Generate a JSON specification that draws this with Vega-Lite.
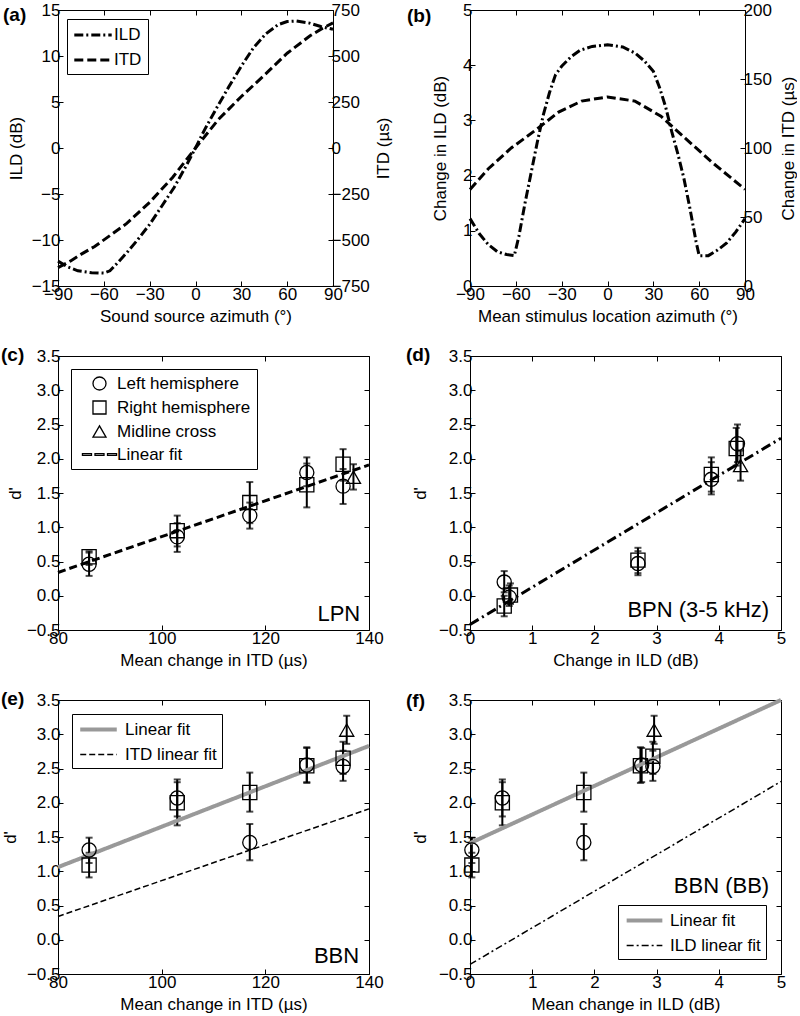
{
  "$schema": "https://vega.github.io/schema/vega-lite/v6.json",
  "background": "white",
  "padding": {"left": 0, "top": 0, "right": 0, "bottom": 0},
  "columns": 2,
  "spacing": {"row": 70, "column": 101},
  "bounds": "flush",
  "resolve": {
    "scale": {"color": "independent", "strokeDash": "independent", "shape": "independent", "strokeWidth": "independent"},
    "legend": {"color": "independent", "strokeDash": "independent", "shape": "independent", "strokeWidth": "independent"}
  },
  "config": {
    "font": "Liberation Sans",
    "view": {"stroke": "black", "strokeWidth": 1},
    "axis": {
      "grid": false,
      "domain": false,
      "tickColor": "black",
      "tickSize": -5,
      "tickWidth": 1,
      "labelColor": "black",
      "labelFont": "Liberation Sans",
      "labelFontSize": 17,
      "labelPadding": 3,
      "labelFlush": false,
      "labelOverlap": false,
      "titleColor": "black",
      "titleFont": "Liberation Sans",
      "titleFontSize": 17,
      "titleFontWeight": "normal"
    },
    "axisX": {"labelPadding": 5},
    "legend": {
      "labelFont": "Liberation Sans",
      "labelFontSize": 17,
      "labelColor": "black",
      "labelLimit": 300,
      "fillColor": "white",
      "strokeColor": "black"
    },
    "title": {
      "font": "Liberation Sans",
      "fontSize": 19,
      "fontWeight": "bold",
      "color": "black",
      "orient": "none",
      "anchor": "start",
      "baseline": "top",
      "offset": 0
    }
  },
  "datasets": {
    "a_ild": [
      {"az": -90, "v": -12.3}, {"az": -84, "v": -12.9}, {"az": -77, "v": -13.35}, {"az": -68, "v": -13.55},
      {"az": -60, "v": -13.6}, {"az": -56, "v": -13.35}, {"az": -50, "v": -12.3}, {"az": -44, "v": -11.2},
      {"az": -38, "v": -10.0}, {"az": -30, "v": -8.3}, {"az": -22, "v": -6.3}, {"az": -14, "v": -4.3},
      {"az": -6, "v": -1.9}, {"az": 0, "v": 0}, {"az": 6, "v": 2.0}, {"az": 14, "v": 4.4},
      {"az": 22, "v": 6.7}, {"az": 30, "v": 8.9}, {"az": 38, "v": 10.9}, {"az": 46, "v": 12.4},
      {"az": 54, "v": 13.4}, {"az": 60, "v": 13.75}, {"az": 66, "v": 13.8}, {"az": 74, "v": 13.6},
      {"az": 82, "v": 13.2}, {"az": 90, "v": 12.9}
    ],
    "a_itd": [
      {"az": -90, "v": -650}, {"az": -82, "v": -615}, {"az": -75, "v": -578}, {"az": -66, "v": -535},
      {"az": -55, "v": -470}, {"az": -45, "v": -410}, {"az": -30, "v": -295}, {"az": -15, "v": -160},
      {"az": 0, "v": 0}, {"az": 15, "v": 155}, {"az": 30, "v": 280}, {"az": 45, "v": 395},
      {"az": 60, "v": 515}, {"az": 75, "v": 610}, {"az": 83, "v": 650}, {"az": 90, "v": 680}
    ],
    "b_ild": [
      {"az": -90, "v": 1.22}, {"az": -84, "v": 0.95}, {"az": -78, "v": 0.75}, {"az": -72, "v": 0.62},
      {"az": -66, "v": 0.57}, {"az": -61, "v": 0.55}, {"az": -58, "v": 0.9}, {"az": -54, "v": 1.5},
      {"az": -50, "v": 2.05}, {"az": -46, "v": 2.6}, {"az": -42, "v": 3.1}, {"az": -38, "v": 3.5},
      {"az": -34, "v": 3.83}, {"az": -30, "v": 3.98}, {"az": -24, "v": 4.15}, {"az": -18, "v": 4.27},
      {"az": -10, "v": 4.34}, {"az": 0, "v": 4.37}, {"az": 10, "v": 4.33}, {"az": 18, "v": 4.22},
      {"az": 24, "v": 4.08}, {"az": 30, "v": 3.89}, {"az": 34, "v": 3.6}, {"az": 38, "v": 3.25},
      {"az": 42, "v": 2.8}, {"az": 46, "v": 2.4}, {"az": 50, "v": 1.95}, {"az": 54, "v": 1.4},
      {"az": 58, "v": 0.8}, {"az": 60, "v": 0.55}, {"az": 66, "v": 0.55}, {"az": 72, "v": 0.65},
      {"az": 78, "v": 0.78}, {"az": 84, "v": 0.98}, {"az": 90, "v": 1.22}
    ],
    "b_itd": [
      {"az": -90, "v": 70}, {"az": -78, "v": 85}, {"az": -63, "v": 100}, {"az": -47, "v": 113},
      {"az": -32, "v": 126}, {"az": -17, "v": 134}, {"az": 0, "v": 137}, {"az": 18, "v": 134},
      {"az": 35, "v": 123}, {"az": 51, "v": 107}, {"az": 68, "v": 90}, {"az": 90, "v": 70}
    ],
    "c_pts": [
      {"x": 86, "d": 0.46, "lo": 0.29, "hi": 0.63, "g": "Left hemisphere"},
      {"x": 103, "d": 0.86, "lo": 0.64, "hi": 1.06, "g": "Left hemisphere"},
      {"x": 117, "d": 1.17, "lo": 0.98, "hi": 1.36, "g": "Left hemisphere"},
      {"x": 128, "d": 1.8, "lo": 1.6, "hi": 2.02, "g": "Left hemisphere"},
      {"x": 135, "d": 1.6, "lo": 1.34, "hi": 1.85, "g": "Left hemisphere"},
      {"x": 86, "d": 0.57, "lo": 0.45, "hi": 0.65, "g": "Right hemisphere"},
      {"x": 103, "d": 0.95, "lo": 0.72, "hi": 1.17, "g": "Right hemisphere"},
      {"x": 117, "d": 1.36, "lo": 1.06, "hi": 1.66, "g": "Right hemisphere"},
      {"x": 128, "d": 1.62, "lo": 1.29, "hi": 1.93, "g": "Right hemisphere"},
      {"x": 135, "d": 1.92, "lo": 1.68, "hi": 2.14, "g": "Right hemisphere"},
      {"x": 137, "d": 1.73, "lo": 1.55, "hi": 1.92, "g": "Midline cross"}
    ],
    "c_fit": [{"x": 80, "d": 0.34}, {"x": 140, "d": 1.91}],
    "d_pts": [
      {"x": 0.55, "d": 0.2, "lo": 0.05, "hi": 0.36, "g": "Left hemisphere"},
      {"x": 0.63, "d": -0.02, "lo": -0.15, "hi": 0.15, "g": "Left hemisphere"},
      {"x": 2.7, "d": 0.47, "lo": 0.3, "hi": 0.65, "g": "Left hemisphere"},
      {"x": 3.88, "d": 1.7, "lo": 1.48, "hi": 1.95, "g": "Left hemisphere"},
      {"x": 4.3, "d": 2.22, "lo": 1.95, "hi": 2.5, "g": "Left hemisphere"},
      {"x": 0.55, "d": -0.15, "lo": -0.3, "hi": 0.0, "g": "Right hemisphere"},
      {"x": 0.65, "d": 0.01, "lo": -0.12, "hi": 0.18, "g": "Right hemisphere"},
      {"x": 2.7, "d": 0.52, "lo": 0.33, "hi": 0.7, "g": "Right hemisphere"},
      {"x": 3.88, "d": 1.77, "lo": 1.52, "hi": 2.02, "g": "Right hemisphere"},
      {"x": 4.28, "d": 2.15, "lo": 1.9, "hi": 2.45, "g": "Right hemisphere"},
      {"x": 4.35, "d": 1.9, "lo": 1.68, "hi": 2.12, "g": "Midline cross"}
    ],
    "d_fit": [{"x": 0, "d": -0.42}, {"x": 5, "d": 2.3}],
    "e_pts": [
      {"x": 86, "d": 1.31, "lo": 1.12, "hi": 1.49, "g": "Left hemisphere"},
      {"x": 103, "d": 2.07, "lo": 1.8, "hi": 2.34, "g": "Left hemisphere"},
      {"x": 117, "d": 1.42, "lo": 1.16, "hi": 1.69, "g": "Left hemisphere"},
      {"x": 128, "d": 2.55, "lo": 2.3, "hi": 2.8, "g": "Left hemisphere"},
      {"x": 135, "d": 2.53, "lo": 2.32, "hi": 2.76, "g": "Left hemisphere"},
      {"x": 86, "d": 1.09, "lo": 0.91, "hi": 1.27, "g": "Right hemisphere"},
      {"x": 103, "d": 2.0, "lo": 1.67, "hi": 2.3, "g": "Right hemisphere"},
      {"x": 117, "d": 2.15, "lo": 1.87, "hi": 2.44, "g": "Right hemisphere"},
      {"x": 128, "d": 2.54, "lo": 2.29, "hi": 2.81, "g": "Right hemisphere"},
      {"x": 135, "d": 2.65, "lo": 2.42, "hi": 2.89, "g": "Right hemisphere"},
      {"x": 135.7, "d": 3.06, "lo": 2.86, "hi": 3.27, "g": "Midline cross"}
    ],
    "e_fit": [{"x": 80, "d": 1.06}, {"x": 140, "d": 2.83}],
    "e_itdfit": [{"x": 80, "d": 0.34}, {"x": 140, "d": 1.91}],
    "f_pts": [
      {"x": 0.03, "d": 1.31, "lo": 1.12, "hi": 1.49, "g": "Left hemisphere"},
      {"x": 0.52, "d": 2.07, "lo": 1.8, "hi": 2.34, "g": "Left hemisphere"},
      {"x": 1.83, "d": 1.42, "lo": 1.16, "hi": 1.69, "g": "Left hemisphere"},
      {"x": 2.76, "d": 2.55, "lo": 2.3, "hi": 2.8, "g": "Left hemisphere"},
      {"x": 2.94, "d": 2.53, "lo": 2.32, "hi": 2.76, "g": "Left hemisphere"},
      {"x": 0.03, "d": 1.09, "lo": 0.91, "hi": 1.27, "g": "Right hemisphere"},
      {"x": 0.52, "d": 2.0, "lo": 1.67, "hi": 2.3, "g": "Right hemisphere"},
      {"x": 1.83, "d": 2.15, "lo": 1.87, "hi": 2.44, "g": "Right hemisphere"},
      {"x": 2.74, "d": 2.54, "lo": 2.29, "hi": 2.81, "g": "Right hemisphere"},
      {"x": 2.94, "d": 2.68, "lo": 2.42, "hi": 2.89, "g": "Right hemisphere"},
      {"x": 2.96, "d": 3.06, "lo": 2.86, "hi": 3.27, "g": "Midline cross"}
    ],
    "f_fit": [{"x": 0, "d": 1.41}, {"x": 5, "d": 3.5}],
    "f_ildfit": [{"x": 0, "d": -0.36}, {"x": 5, "d": 2.31}]
  },
  "concat": [
    {
      "width": 275,
      "height": 276,
      "title": {"text": "(a)", "dx": -55, "dy": -4},
      "layer": [
        {
          "data": {"name": "a_ild"},
          "mark": {"type": "line", "color": "black", "strokeWidth": 3},
          "encoding": {
            "x": {"field": "az", "type": "quantitative", "scale": {"domain": [-90, 90], "nice": false},
                  "axis": {"values": [-90, -60, -30, 0, 30, 60, 90], "title": "Sound source azimuth (°)", "titlePadding": 6}},
            "y": {"field": "v", "type": "quantitative", "scale": {"domain": [-15, 15], "nice": false},
                  "axis": {"values": [-15, -10, -5, 0, 5, 10, 15], "title": "ILD (dB)", "titlePadding": 6}},
            "strokeDash": {"datum": "ILD", "type": "nominal",
                           "scale": {"domain": ["ILD", "ITD"], "range": [[9, 3, 2, 3], [9, 4]]},
                           "legend": {"title": null, "orient": "top-left", "offset": 9, "padding": 6,
                                      "symbolType": "M-2.2,0H2.2", "symbolSize": 289, "symbolStrokeWidth": 3,
                                      "symbolStrokeColor": "black", "symbolOffset": 10, "labelOffset": 11, "rowPadding": 7}}
          }
        },
        {
          "data": {"name": "a_itd"},
          "mark": {"type": "line", "color": "black", "strokeWidth": 3},
          "encoding": {
            "x": {"field": "az", "type": "quantitative",
                  "axis": {"orient": "top", "labels": false, "title": null, "values": [-90, -60, -30, 0, 30, 60, 90]}},
            "y": {"field": "v", "type": "quantitative", "scale": {"domain": [-750, 750], "nice": false},
                  "axis": {"orient": "right", "values": [-750, -500, -250, 0, 250, 500, 750], "title": "ITD (µs)",
                           "titleAngle": 270, "titleBaseline": "top", "titlePadding": 6}},
            "strokeDash": {"datum": "ITD", "type": "nominal"}
          }
        }
      ],
      "resolve": {"scale": {"y": "independent"}, "axis": {"x": "independent", "y": "independent"}}
    },
    {
      "width": 275,
      "height": 276,
      "title": {"text": "(b)", "dx": -63, "dy": -3},
      "layer": [
        {
          "data": {"name": "b_ild"},
          "mark": {"type": "line", "color": "black", "strokeWidth": 3, "strokeDash": [9, 3, 2, 3]},
          "encoding": {
            "x": {"field": "az", "type": "quantitative", "scale": {"domain": [-90, 90], "nice": false},
                  "axis": {"values": [-90, -60, -30, 0, 30, 60, 90], "title": "Mean stimulus location azimuth (°)", "titlePadding": 6}},
            "y": {"field": "v", "type": "quantitative", "scale": {"domain": [0, 5], "nice": false},
                  "axis": {"values": [0, 1, 2, 3, 4, 5], "title": "Change in ILD (dB)", "titlePadding": 13}}
          }
        },
        {
          "data": {"name": "b_itd"},
          "mark": {"type": "line", "color": "black", "strokeWidth": 3, "strokeDash": [9, 4]},
          "encoding": {
            "x": {"field": "az", "type": "quantitative",
                  "axis": {"orient": "top", "labels": false, "title": null, "values": [-90, -60, -30, 0, 30, 60, 90]}},
            "y": {"field": "v", "type": "quantitative", "scale": {"domain": [0, 200], "nice": false},
                  "axis": {"orient": "right", "values": [0, 50, 100, 150, 200], "title": "Change in ITD (µs)",
                           "titleAngle": 270, "titleBaseline": "top", "titlePadding": 9}}
          }
        }
      ],
      "resolve": {"scale": {"y": "independent"}, "axis": {"x": "independent", "y": "independent"}}
    },
    {
      "width": 311,
      "height": 274,
      "title": {"text": "(c)", "dx": -57, "dy": -10},
      "layer": [
        {
          "data": {"name": "c_pts"},
          "mark": {"type": "rule", "color": "black", "strokeWidth": 2},
          "encoding": {
            "x": {"field": "x", "type": "quantitative", "scale": {"domain": [80, 140], "nice": false, "zero": false},
                  "axis": {"values": [80, 100, 120, 140], "title": "Mean change in ITD (µs)", "titlePadding": 6}},
            "y": {"field": "lo", "type": "quantitative", "scale": {"domain": [-0.5, 3.5], "nice": false, "zero": false},
                  "axis": {"values": [-0.5, 0, 0.5, 1, 1.5, 2, 2.5, 3, 3.5], "title": "d'", "titlePadding": 2}},
            "y2": {"field": "hi"}
          }
        },
        {
          "data": {"name": "c_pts"},
          "mark": {"type": "tick", "color": "black", "orient": "horizontal", "size": 7, "thickness": 2},
          "encoding": {
            "x": {"field": "x", "type": "quantitative", "axis": null},
            "y": {"field": "lo", "type": "quantitative", "axis": null}
          }
        },
        {
          "data": {"name": "c_pts"},
          "mark": {"type": "tick", "color": "black", "orient": "horizontal", "size": 7, "thickness": 2},
          "encoding": {
            "x": {"field": "x", "type": "quantitative", "axis": null},
            "y": {"field": "hi", "type": "quantitative", "axis": null}
          }
        },
        {
          "data": {"name": "c_fit"},
          "mark": {"type": "line", "color": "black", "strokeWidth": 3, "strokeDash": [8, 4]},
          "encoding": {
            "x": {"field": "x", "type": "quantitative",
                  "axis": {"orient": "top", "labels": false, "title": null, "values": [80, 100, 120, 140]}},
            "y": {"field": "d", "type": "quantitative",
                  "axis": {"orient": "right", "labels": false, "title": null, "values": [-0.5, 0, 0.5, 1, 1.5, 2, 2.5, 3, 3.5]}}
          }
        },
        {
          "data": {"name": "c_pts"},
          "mark": {"type": "point", "filled": false, "color": "black", "size": 200, "strokeWidth": 1.3, "opacity": 1},
          "encoding": {
            "x": {"field": "x", "type": "quantitative", "axis": null},
            "y": {"field": "d", "type": "quantitative", "axis": null},
            "shape": {"field": "g", "type": "nominal",
                      "scale": {"domain": ["Left hemisphere", "Right hemisphere", "Midline cross", "Linear fit"],
                                "range": ["circle", "square", "triangle-up",
                                          "M-2.615,-0.13H-1.23V0.13H-2.615ZM-0.69,-0.13H0.69V0.13H-0.69ZM1.23,-0.13H2.615V0.13H1.23Z"]},
                      "legend": {"title": null, "orient": "top-left", "offset": 13, "padding": 6, "symbolSize": 170,
                                 "symbolStrokeWidth": 1.3, "symbolStrokeColor": "black", "symbolOffset": 14,
                                 "labelOffset": 9, "rowPadding": 5}}
          }
        },
        {
          "data": {"values": [{"label": "LPN"}]},
          "mark": {"type": "text", "fontSize": 22, "align": "right", "baseline": "middle", "color": "black"},
          "encoding": {
            "x": {"datum": 138.3, "type": "quantitative", "axis": null},
            "y": {"datum": -0.26, "type": "quantitative", "axis": null},
            "text": {"field": "label"}
          }
        }
      ],
      "resolve": {"axis": {"x": "independent", "y": "independent"}}
    },
    {
      "width": 311,
      "height": 274,
      "title": {"text": "(d)", "dx": -64, "dy": -10},
      "layer": [
        {
          "data": {"name": "d_pts"},
          "mark": {"type": "rule", "color": "black", "strokeWidth": 2},
          "encoding": {
            "x": {"field": "x", "type": "quantitative", "scale": {"domain": [0, 5], "nice": false},
                  "axis": {"values": [0, 1, 2, 3, 4, 5], "title": "Change in ILD (dB)", "titlePadding": 6}},
            "y": {"field": "lo", "type": "quantitative", "scale": {"domain": [-0.5, 3.5], "nice": false, "zero": false},
                  "axis": {"values": [-0.5, 0, 0.5, 1, 1.5, 2, 2.5, 3, 3.5], "title": "d'", "titlePadding": 9}},
            "y2": {"field": "hi"}
          }
        },
        {
          "data": {"name": "d_pts"},
          "mark": {"type": "tick", "color": "black", "orient": "horizontal", "size": 7, "thickness": 2},
          "encoding": {
            "x": {"field": "x", "type": "quantitative", "axis": null},
            "y": {"field": "lo", "type": "quantitative", "axis": null}
          }
        },
        {
          "data": {"name": "d_pts"},
          "mark": {"type": "tick", "color": "black", "orient": "horizontal", "size": 7, "thickness": 2},
          "encoding": {
            "x": {"field": "x", "type": "quantitative", "axis": null},
            "y": {"field": "hi", "type": "quantitative", "axis": null}
          }
        },
        {
          "data": {"name": "d_fit"},
          "mark": {"type": "line", "color": "black", "strokeWidth": 3, "strokeDash": [10, 4, 2, 4]},
          "encoding": {
            "x": {"field": "x", "type": "quantitative",
                  "axis": {"orient": "top", "labels": false, "title": null, "values": [0, 1, 2, 3, 4, 5]}},
            "y": {"field": "d", "type": "quantitative",
                  "axis": {"orient": "right", "labels": false, "title": null, "values": [-0.5, 0, 0.5, 1, 1.5, 2, 2.5, 3, 3.5]}}
          }
        },
        {
          "data": {"name": "d_pts"},
          "mark": {"type": "point", "filled": false, "color": "black", "size": 200, "strokeWidth": 1.3, "opacity": 1},
          "encoding": {
            "x": {"field": "x", "type": "quantitative", "axis": null},
            "y": {"field": "d", "type": "quantitative", "axis": null},
            "shape": {"field": "g", "type": "nominal",
                      "scale": {"domain": ["Left hemisphere", "Right hemisphere", "Midline cross"],
                                "range": ["circle", "square", "triangle-up"]},
                      "legend": null}
          }
        },
        {
          "data": {"values": [{"label": "BPN (3-5 kHz)"}]},
          "mark": {"type": "text", "fontSize": 22, "align": "right", "baseline": "middle", "color": "black"},
          "encoding": {
            "x": {"datum": 4.81, "type": "quantitative", "axis": null},
            "y": {"datum": -0.21, "type": "quantitative", "axis": null},
            "text": {"field": "label"}
          }
        }
      ],
      "resolve": {"axis": {"x": "independent", "y": "independent"}}
    },
    {
      "width": 311,
      "height": 274,
      "title": {"text": "(e)", "dx": -57, "dy": -10},
      "layer": [
        {
          "data": {"name": "e_pts"},
          "mark": {"type": "rule", "color": "black", "strokeWidth": 2},
          "encoding": {
            "x": {"field": "x", "type": "quantitative", "scale": {"domain": [80, 140], "nice": false, "zero": false},
                  "axis": {"values": [80, 100, 120, 140], "title": "Mean change in ITD (µs)", "titlePadding": 6}},
            "y": {"field": "lo", "type": "quantitative", "scale": {"domain": [-0.5, 3.5], "nice": false, "zero": false},
                  "axis": {"values": [-0.5, 0, 0.5, 1, 1.5, 2, 2.5, 3, 3.5], "title": "d'", "titlePadding": 7}},
            "y2": {"field": "hi"}
          }
        },
        {
          "data": {"name": "e_pts"},
          "mark": {"type": "tick", "color": "black", "orient": "horizontal", "size": 7, "thickness": 2},
          "encoding": {
            "x": {"field": "x", "type": "quantitative", "axis": null},
            "y": {"field": "lo", "type": "quantitative", "axis": null}
          }
        },
        {
          "data": {"name": "e_pts"},
          "mark": {"type": "tick", "color": "black", "orient": "horizontal", "size": 7, "thickness": 2},
          "encoding": {
            "x": {"field": "x", "type": "quantitative", "axis": null},
            "y": {"field": "hi", "type": "quantitative", "axis": null}
          }
        },
        {
          "data": {"name": "e_fit"},
          "mark": {"type": "line"},
          "encoding": {
            "x": {"field": "x", "type": "quantitative", "axis": null},
            "y": {"field": "d", "type": "quantitative", "axis": null},
            "color": {"datum": "Linear fit", "type": "nominal",
                      "scale": {"domain": ["Linear fit", "ITD linear fit"], "range": ["#999999", "black"]},
                      "legend": {"title": null, "orient": "top-left", "offset": 14, "padding": 5,
                                 "symbolType": "M-2.15,0H2.15", "symbolSize": 289, "symbolOffset": 11,
                                 "labelOffset": 16, "rowPadding": 7}},
            "strokeDash": {"datum": "Linear fit", "type": "nominal",
                           "scale": {"domain": ["Linear fit", "ITD linear fit"], "range": [[1, 0], [6, 3]]}},
            "strokeWidth": {"datum": "Linear fit", "type": "nominal",
                            "scale": {"domain": ["Linear fit", "ITD linear fit"], "range": [4, 1.5]}}
          }
        },
        {
          "data": {"name": "e_itdfit"},
          "mark": {"type": "line"},
          "encoding": {
            "x": {"field": "x", "type": "quantitative",
                  "axis": {"orient": "top", "labels": false, "title": null, "values": [80, 100, 120, 140]}},
            "y": {"field": "d", "type": "quantitative",
                  "axis": {"orient": "right", "labels": false, "title": null, "values": [-0.5, 0, 0.5, 1, 1.5, 2, 2.5, 3, 3.5]}},
            "color": {"datum": "ITD linear fit", "type": "nominal"},
            "strokeDash": {"datum": "ITD linear fit", "type": "nominal"},
            "strokeWidth": {"datum": "ITD linear fit", "type": "nominal"}
          }
        },
        {
          "data": {"name": "e_pts"},
          "mark": {"type": "point", "filled": false, "color": "black", "size": 200, "strokeWidth": 1.3, "opacity": 1},
          "encoding": {
            "x": {"field": "x", "type": "quantitative", "axis": null},
            "y": {"field": "d", "type": "quantitative", "axis": null},
            "shape": {"field": "g", "type": "nominal",
                      "scale": {"domain": ["Left hemisphere", "Right hemisphere", "Midline cross"],
                                "range": ["circle", "square", "triangle-up"]},
                      "legend": null}
          }
        },
        {
          "data": {"values": [{"label": "BBN"}]},
          "mark": {"type": "text", "fontSize": 22, "align": "right", "baseline": "middle", "color": "black"},
          "encoding": {
            "x": {"datum": 138.1, "type": "quantitative", "axis": null},
            "y": {"datum": -0.24, "type": "quantitative", "axis": null},
            "text": {"field": "label"}
          }
        }
      ],
      "resolve": {"axis": {"x": "independent", "y": "independent"}}
    },
    {
      "width": 311,
      "height": 274,
      "title": {"text": "(f)", "dx": -64, "dy": -8},
      "layer": [
        {
          "data": {"name": "f_pts"},
          "mark": {"type": "rule", "color": "black", "strokeWidth": 2},
          "encoding": {
            "x": {"field": "x", "type": "quantitative", "scale": {"domain": [0, 5], "nice": false},
                  "axis": {"values": [0, 1, 2, 3, 4, 5], "title": "Mean change in ILD (dB)", "titlePadding": 6}},
            "y": {"field": "lo", "type": "quantitative", "scale": {"domain": [-0.5, 3.5], "nice": false, "zero": false},
                  "axis": {"values": [-0.5, 0, 0.5, 1, 1.5, 2, 2.5, 3, 3.5], "title": "d'", "titlePadding": 9}},
            "y2": {"field": "hi"}
          }
        },
        {
          "data": {"name": "f_pts"},
          "mark": {"type": "tick", "color": "black", "orient": "horizontal", "size": 7, "thickness": 2},
          "encoding": {
            "x": {"field": "x", "type": "quantitative", "axis": null},
            "y": {"field": "lo", "type": "quantitative", "axis": null}
          }
        },
        {
          "data": {"name": "f_pts"},
          "mark": {"type": "tick", "color": "black", "orient": "horizontal", "size": 7, "thickness": 2},
          "encoding": {
            "x": {"field": "x", "type": "quantitative", "axis": null},
            "y": {"field": "hi", "type": "quantitative", "axis": null}
          }
        },
        {
          "data": {"name": "f_fit"},
          "mark": {"type": "line"},
          "encoding": {
            "x": {"field": "x", "type": "quantitative", "axis": null},
            "y": {"field": "d", "type": "quantitative", "axis": null},
            "color": {"datum": "Linear fit", "type": "nominal",
                      "scale": {"domain": ["Linear fit", "ILD linear fit"], "range": ["#999999", "black"]},
                      "legend": {"title": null, "orient": "bottom-right", "offset": 15, "padding": 5,
                                 "symbolType": "M-2.1,0H2.1", "symbolSize": 289, "symbolOffset": 11,
                                 "labelOffset": 15, "rowPadding": 7}},
            "strokeDash": {"datum": "Linear fit", "type": "nominal",
                           "scale": {"domain": ["Linear fit", "ILD linear fit"], "range": [[1, 0], [7, 3, 2, 3]]}},
            "strokeWidth": {"datum": "Linear fit", "type": "nominal",
                            "scale": {"domain": ["Linear fit", "ILD linear fit"], "range": [4, 1.5]}}
          }
        },
        {
          "data": {"name": "f_ildfit"},
          "mark": {"type": "line"},
          "encoding": {
            "x": {"field": "x", "type": "quantitative",
                  "axis": {"orient": "top", "labels": false, "title": null, "values": [0, 1, 2, 3, 4, 5]}},
            "y": {"field": "d", "type": "quantitative",
                  "axis": {"orient": "right", "labels": false, "title": null, "values": [-0.5, 0, 0.5, 1, 1.5, 2, 2.5, 3, 3.5]}},
            "color": {"datum": "ILD linear fit", "type": "nominal"},
            "strokeDash": {"datum": "ILD linear fit", "type": "nominal"},
            "strokeWidth": {"datum": "ILD linear fit", "type": "nominal"}
          }
        },
        {
          "data": {"name": "f_pts"},
          "mark": {"type": "point", "filled": false, "color": "black", "size": 200, "strokeWidth": 1.3, "opacity": 1},
          "encoding": {
            "x": {"field": "x", "type": "quantitative", "axis": null},
            "y": {"field": "d", "type": "quantitative", "axis": null},
            "shape": {"field": "g", "type": "nominal",
                      "scale": {"domain": ["Left hemisphere", "Right hemisphere", "Midline cross"],
                                "range": ["circle", "square", "triangle-up"]},
                      "legend": null}
          }
        },
        {
          "data": {"values": [{"label": "BBN (BB)"}]},
          "mark": {"type": "text", "fontSize": 22, "align": "right", "baseline": "middle", "color": "black"},
          "encoding": {
            "x": {"datum": 4.81, "type": "quantitative", "axis": null},
            "y": {"datum": 0.78, "type": "quantitative", "axis": null},
            "text": {"field": "label"}
          }
        }
      ],
      "resolve": {"axis": {"x": "independent", "y": "independent"}}
    }
  ]
}
